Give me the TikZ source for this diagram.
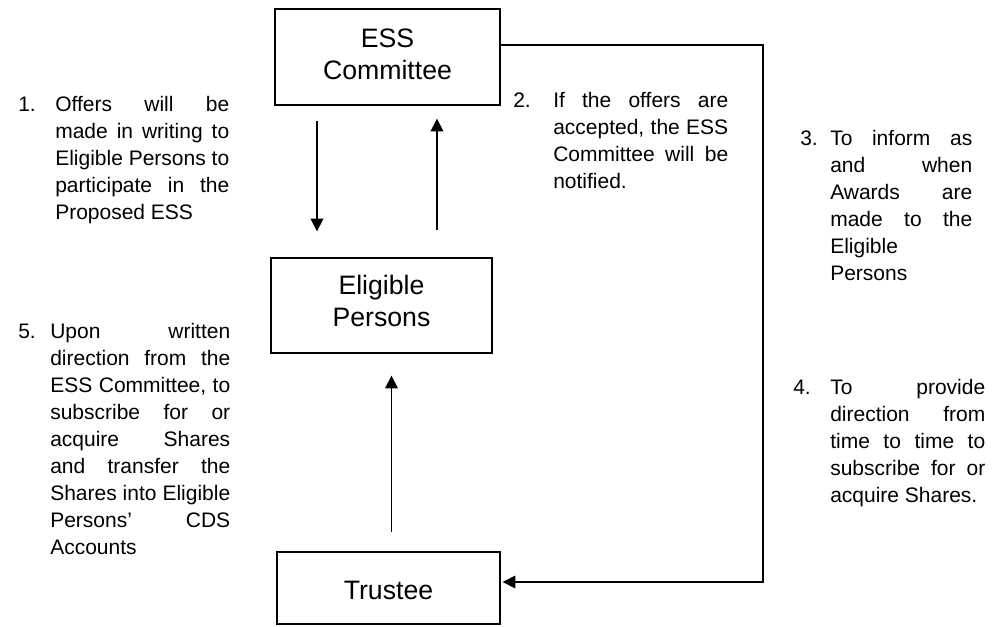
\documentclass[tikz,border=0pt]{standalone}
\usepackage{fontspec}
\setmainfont{Liberation Sans}
\usetikzlibrary{arrows.meta,calc}
\newcommand\J[1]{\hbox to\hsize{\spaceskip=\fontdimen2\font plus 1fil minus .15em\relax #1}}
\newcommand\Lr[1]{\hbox to\hsize{#1\hfil}}
\newcommand\Col[2]{\vtop{\hsize=#1\relax #2}}
\newcommand\Stack[1]{\vtop{\halign{\hfil##\hfil\cr#1\crcr}}}
\begin{document}
\begin{tikzpicture}[x=0.75pt,y=-0.75pt,
  box/.style={draw,line width=1pt,inner sep=0pt},
  boxtext/.style={anchor=base,inner sep=0pt,font=\fontsize{20}{24}\selectfont},
  item/.style={anchor=base west,inner sep=0pt,font=\fontsize{15.75}{20.25}\selectfont\frenchspacing},
  num/.style={anchor=base west,inner sep=0pt,font=\fontsize{15.75}{20.25}\selectfont},
  arr/.style={line width=1pt,-{Triangle[length=9.5pt,width=9.5pt]}}]
\useasboundingbox (0,0) rectangle (997,626);
% boxes
\node[box,minimum width=168.75pt,minimum height=72pt] (ess) at (387.5,57) {};
\node[box,minimum width=165.75pt,minimum height=71.25pt] (elig) at (381.5,305.5) {};
\node[box,minimum width=167.25pt,minimum height=54pt] (trust) at (388.5,588) {};
\node[boxtext] (esslbl) at (387.5,47) {\Stack{ESS\cr Committee}};
\node[boxtext] (eliglbl) at (381.5,294) {\Stack{Eligible\cr Persons}};
\node[boxtext] (trustlbl) at (388.5,599) {Trustee};
% item 1
\node[num] (n1) at (18,111.5) {1.};
\node[item] (t1) at (55,111.5) {\Col{130.5pt}{\J{Offers will be}\J{made in writing to}\J{Eligible Persons to}\J{participate in the}\Lr{Proposed ESS}}};
% item 2
\node[num] (n2) at (513,107.5) {2.};
\node[item] (t2) at (553,107.5) {\Col{131.25pt}{\J{If the offers are}\J{accepted, the ESS}\J{Committee will be}\Lr{notified.}}};
% item 3
\node[num] (n3) at (800,145.5) {3.};
\node[item] (t3) at (830,145.5) {\Col{106.5pt}{\J{To inform as}\J{and when}\J{Awards are}\J{made to the}\Lr{Eligible}\Lr{Persons}}};
% item 4
\node[num] (n4) at (793,394) {4.};
\node[item] (t4) at (830,394) {\Col{116.25pt}{\J{To provide}\J{direction from}\J{time to time to}\J{subscribe for or}\Lr{acquire Shares.}}};
% item 5
\node[num] (n5) at (18,338.5) {5.};
\node[item] (t5) at (50,338.5) {\Col{135pt}{\J{Upon written}\J{direction from the}\J{ESS Committee, to}\J{subscribe for or}\J{acquire Shares}\J{and transfer the}\J{Shares into Eligible}\J{Persons’ CDS}\Lr{Accounts}}};
% arrows
\draw[arr,shorten <=11.25pt,shorten >=19.5pt] ($(ess.south)+(-70.5,0)$) -- ($(elig.north)+(-64.5,0)$);
\draw[arr,shorten <=20.25pt,shorten >=9.75pt] ($(elig.north)+(55.5,0)$) -- ($(ess.south)+(49.5,0)$);
\draw[arr,shorten <=14.25pt,shorten >=16.5pt] ($(trust.north)+(3,0)$) -- ($(elig.south)+(10,0)$);
\coordinate (rt) at (763,45);
\draw[arr,shorten >=1.5pt] ($(ess.east)+(0,-12)$) -- (rt) |- ($(trust.east)+(0,-6)$);
\end{tikzpicture}
\end{document}
